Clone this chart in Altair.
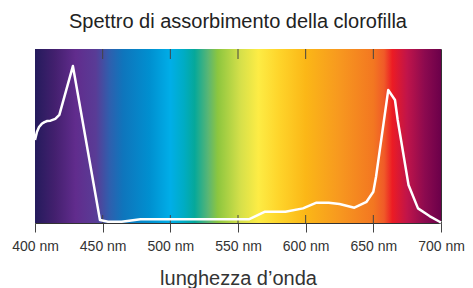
import altair as alt
import pandas as pd

# Absorption curve (wavelength nm, relative absorbance %)
wavelength = [400, 401.5, 403, 405, 407, 409, 411.5, 415, 418, 428, 448, 454, 464, 478,
              505, 530, 558, 570, 585, 598, 608, 617, 625, 636, 645, 650, 652,
              661, 666, 668, 676, 683, 691.5, 699, 700]
absorbance = [47.7, 52.5, 55.2, 57.0, 58.0, 58.6, 58.8, 59.8, 62.1, 90.2, 1.7, 0.7, 0.7, 2.1,
              2.1, 2.1, 2.1, 6.5, 6.5, 8.4, 11.7, 11.7, 10.9, 8.8, 12.2, 18.0, 26.6,
              76.4, 70.7, 59.2, 21.8, 8.4, 4.0, 0.7, 0.2]

# Spectrum colour stops (wavelength nm -> colour)
stop_wl = [400, 415, 430, 445, 455, 465, 485, 500, 510, 518, 528, 535, 552, 565,
           580, 600, 625, 650, 658, 664, 675, 688, 700]
stop_col = ["#241b5c", "#44206f", "#612c8d", "#593c96", "#2f5fae", "#0f75bc", "#0090d0",
            "#00aee8", "#00acc4", "#06a89a", "#5ab674", "#8cc63f", "#d6e04a", "#fdec45",
            "#fed52b", "#fbb717", "#f7981f", "#f37721", "#f05a28", "#ec1c24", "#c0144a",
            "#8c0a4f", "#6b004a"]

tick_values = [400, 450, 500, 550, 600, 650, 700]

W, H = 406, 174
xmin, xmax = 400, 700

curve = pd.DataFrame({"wl": wavelength, "abs": absorbance})
band = pd.DataFrame({"x0": [xmin], "x1": [xmax], "y0": [0], "y1": [100]})
ticks = pd.DataFrame({"wl": tick_values[1:-1]})

xscale = alt.Scale(domain=[xmin, xmax], nice=False, zero=False)
yscale = alt.Scale(domain=[0, 100], nice=False)

grad = alt.Gradient(
    gradient="linear",
    stops=[alt.GradientStop(color=c, offset=(w - xmin) / (xmax - xmin)) for w, c in zip(stop_wl, stop_col)],
    x1=0, x2=1, y1=0, y2=0,
)

bg = alt.Chart(band).mark_rect(color=grad).encode(
    x=alt.X("x0:Q", scale=xscale,
            axis=alt.Axis(values=tick_values, labelExpr="datum.value + ' nm'",
                          tickSize=9, tickColor="#444444", domain=False, grid=False,
                          labelOverlap=False, labelFlush=False,
                          labelFont="Liberation Sans", labelFontSize=14, labelColor="#333333",
                          labelPadding=7, title="lunghezza d’onda", titleFont="Liberation Sans",
                          titleFontSize=20, titleFontWeight="normal", titleColor="#333333",
                          titlePadding=15)),
    x2="x1:Q",
    y=alt.Y("y0:Q", scale=yscale, axis=None),
    y2="y1:Q",
)

top_ticks = alt.Chart(ticks).mark_rule(color="#444444", strokeWidth=1).encode(
    x=alt.X("wl:Q", scale=xscale), y=alt.value(0), y2=alt.value(10)
)
bot_ticks = alt.Chart(ticks).mark_rule(color="#444444", strokeWidth=1).encode(
    x=alt.X("wl:Q", scale=xscale), y=alt.value(H - 8), y2=alt.value(H)
)

line = alt.Chart(curve).mark_line(color="white", strokeWidth=2.5, strokeJoin="round").encode(
    x=alt.X("wl:Q", scale=xscale),
    y=alt.Y("abs:Q", scale=yscale),
)

chart = alt.layer(bg, top_ticks, bot_ticks, line).properties(
    width=W, height=H,
    title=alt.TitleParams("Spettro di assorbimento della clorofilla", font="Liberation Sans",
                          fontSize=20, fontWeight="normal", color="#222222", offset=17),
    padding={"left": 27, "top": 41, "right": 24, "bottom": 66},
    autosize=alt.AutoSizeParams(type="none"),
).configure_view(stroke="#333333", strokeWidth=1)

chart.save("out.html", embed_options={"renderer": "svg", "actions": False})
